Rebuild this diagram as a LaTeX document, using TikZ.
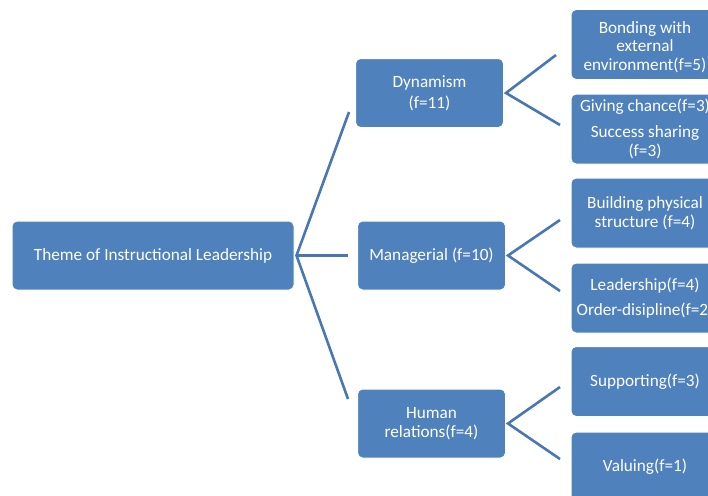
\documentclass[tikz,border=0pt]{standalone}
\usepackage{fontspec}
\setmainfont{Carlito}
\definecolor{boxblue}{HTML}{4F81BD}
\definecolor{lineblue}{HTML}{4877B4}
\begin{document}
\begin{tikzpicture}[x=1pt,y=-1pt,
  box/.style={draw=white,line width=1pt,fill=boxblue,rounded corners=5pt,text=white,
    align=center,inner sep=1pt,font=\fontsize{17.2}{18.7}\selectfont},
  leaf/.style={box,minimum width=148pt,minimum height=70pt},
  mid/.style={box,minimum width=148pt,minimum height=69pt},
  conn/.style={draw=lineblue,line width=2.6pt}]
\fill[white] (0,0) rectangle (708,495);
\clip (0,0) rectangle (708,495);
\useasboundingbox (0,0) rectangle (708,495);
% nodes
\node[box,minimum width=282pt,minimum height=69pt] (root) at (153,255.5) {Theme of Instructional Leadership};
\node[mid] (dyn) at (429.5,93) {Dynamism\\[2pt](f=11)};
\node[mid] (man) at (431.5,255.5) {Managerial (f=10)};
\node[mid] (hum) at (431.5,423.5) {Human\\relations(f=4)};
\node[leaf] (bond) at (645,44.5) {\raisebox{-8pt}[0pt][0pt]{\begin{tabular}{@{}c@{}}Bonding with\\external\\environment(f=5)\end{tabular}}};
\node[leaf] (give) at (645,129) {Giving chance(f=3)\\[7pt]Success sharing\\(f=3)};
\node[leaf] (build) at (645,213) {Building physical\\structure (f=4)};
\node[leaf] (lead) at (645,298) {Leadership(f=4)\\[6pt]Order-disipline(f=2)};
\node[leaf] (supp) at (645,381.5) {Supporting(f=3)};
\node[leaf] (val) at (645,467) {Valuing(f=1)};
% connector end points
\coordinate (rv) at ([xshift=2pt]root.east);
\coordinate (r1) at (349,112);
\coordinate (r2) at (348,255.5);
\coordinate (r3) at (348,399);
\coordinate (dv) at ([xshift=2pt]dyn.east);
\coordinate (d1) at (556,55);
\coordinate (d2) at (560,125);
\coordinate (mv) at ([xshift=2pt]man.east);
\coordinate (m1) at (560,220);
\coordinate (m2) at (560,291);
\coordinate (hv) at ([xshift=2pt]hum.east);
\coordinate (h1) at (560,387);
\coordinate (h2) at (560,459);
% connectors
\draw[conn] (r1) -- (rv) -- (r3);
\draw[conn] (rv) -- (r2);
\draw[conn] (d1) -- (dv) -- (d2);
\draw[conn] (m1) -- (mv) -- (m2);
\draw[conn] (h1) -- (hv) -- (h2);
\end{tikzpicture}
\end{document}
